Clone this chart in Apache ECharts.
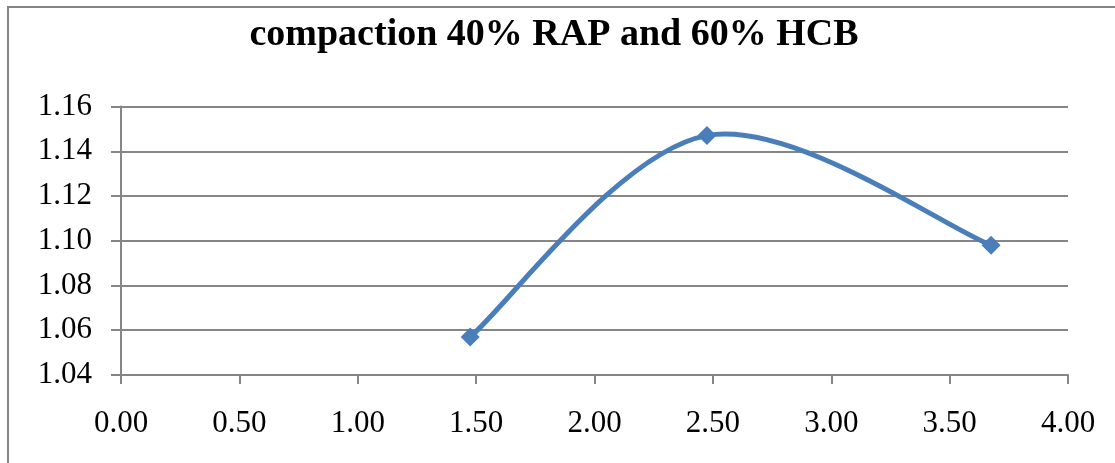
<!DOCTYPE html>
<html>
<head>
<meta charset="utf-8">
<style>
  html, body { margin: 0; padding: 0; background: #ffffff; }
  #chart { width: 1115px; height: 463px; }
</style>
<script src="https://cdn.jsdelivr.net/npm/echarts@6/dist/echarts.min.js"></script>
</head>
<body>
<div id="chart"></div>
<script>
// Measured points: binder content (x) vs. compaction value (y)
const xValues = [1.475, 2.475, 3.675];
const yValues = [1.057, 1.147, 1.098];
const titleText = 'compaction 40% RAP and 60% HCB';

const chart = echarts.init(document.getElementById('chart'), null, { renderer: 'canvas' });
const serif = '"Liberation Serif", "Times New Roman", serif';
const gray = '#868686';
const blue = '#4a7ebb';
const points = xValues.map((x, i) => [x, yValues[i]]);

// Catmull-Rom style smoothing (tension 1/6), built on pixel coordinates
// that come from the axes, so the curve may overshoot past a peak point.
function renderSegment(params, api) {
  const i = params.dataIndex;
  if (i >= points.length - 1) return null;
  const px = points.map(p => api.coord(p));
  const p0 = px[Math.max(i - 1, 0)];
  const p1 = px[i];
  const p2 = px[i + 1];
  const p3 = px[Math.min(i + 2, px.length - 1)];
  const k = 1 / 6;
  return {
    type: 'bezierCurve',
    shape: {
      x1: p1[0], y1: p1[1],
      x2: p2[0], y2: p2[1],
      cpx1: p1[0] + (p2[0] - p0[0]) * k,
      cpy1: p1[1] + (p2[1] - p0[1]) * k,
      cpx2: p2[0] - (p3[0] - p1[0]) * k,
      cpy2: p2[1] - (p3[1] - p1[1]) * k
    },
    style: { fill: null, stroke: blue, lineWidth: 5, lineCap: 'round' }
  };
}

chart.setOption({
  animation: false,
  backgroundColor: '#ffffff',
  title: {
    text: titleText,
    left: 549,
    textAlign: 'center',
    top: 11,
    textStyle: { fontFamily: serif, fontWeight: 'bold', fontSize: 38, color: '#000000' }
  },
  graphic: [{
    type: 'rect',
    shape: { x: 8, y: 7, width: 1200, height: 600 },
    style: { fill: 'none', stroke: gray, lineWidth: 2 },
    silent: true,
    z: -1
  }],
  grid: { left: 121, right: 47, top: 106.5, bottom: 88 },
  xAxis: {
    type: 'value',
    min: 0, max: 4, interval: 0.5,
    axisLine: { show: true, lineStyle: { color: gray, width: 2 } },
    axisTick: { show: true, length: 9, lineStyle: { color: gray, width: 2 } },
    splitLine: { show: false },
    axisLabel: {
      margin: 33,
      fontFamily: serif, fontSize: 31, color: '#000000',
      formatter: v => v.toFixed(2)
    }
  },
  yAxis: {
    type: 'value',
    min: 1.04, max: 1.16, interval: 0.02,
    axisLine: { show: true, lineStyle: { color: gray, width: 2 } },
    axisTick: { show: true, length: 10, lineStyle: { color: gray, width: 2 } },
    splitLine: { show: true, lineStyle: { color: gray, width: 2 } },
    axisLabel: {
      margin: 29,
      fontFamily: serif, fontSize: 31, color: '#000000',
      formatter: v => v.toFixed(2)
    }
  },
  series: [{
    type: 'custom',
    renderItem: renderSegment,
    data: points,
    silent: true,
    z: 2
  }, {
    type: 'scatter',
    data: points,
    symbol: 'diamond',
    symbolSize: 19,
    itemStyle: { color: blue, opacity: 1 },
    z: 3
  }]
});
</script>
</body>
</html>
